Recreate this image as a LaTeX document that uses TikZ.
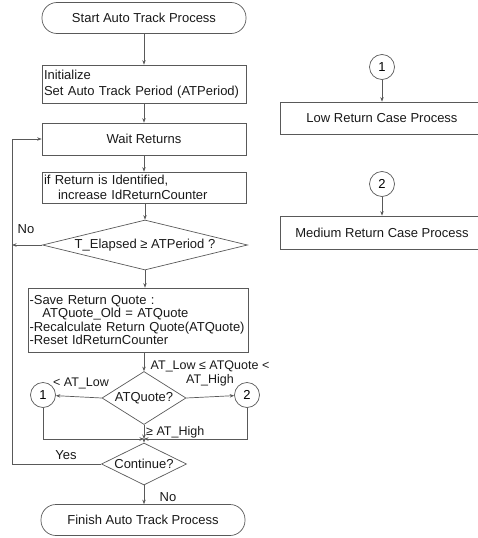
\documentclass[tikz,border=0pt]{standalone}
\usepackage{fontspec}
\setmainfont{Liberation Sans}
\usetikzlibrary{shapes.geometric,arrows.meta}
\begin{document}
\begin{tikzpicture}[x=1pt,y=-1pt,
  font=\fontsize{13}{16}\selectfont,
  line/.style={draw=black!65, line width=0.7pt},
  arr/.style={line, -{Stealth[length=4.5pt,width=3.5pt]}},
  box/.style={line, rectangle, inner sep=0pt, text=black!90},
  term/.style={box, rounded corners=15pt, minimum width=204pt, minimum height=31pt},
  dia/.style={line, diamond, inner sep=0pt, text=black!90},
  conn/.style={line, circle, minimum size=25pt, inner sep=0pt},
  lbl/.style={inner sep=0pt, text=black!90}
]
\useasboundingbox (0,0) rectangle (477,538);

% main column
\node[term] (start) at (144,18) {Start Auto Track Process};
\node[box, text width=200pt, inner xsep=2pt, minimum height=38pt, align=left] (init) at (144,84)
  {Initialize\\Set Auto Track Period (ATPeriod)};
\node[box, minimum width=204pt, minimum height=32pt] (wait) at (144,139) {Wait Returns};
\node[box, text width=200pt, inner xsep=2pt, minimum height=31pt, align=left,
      font=\fontsize{13}{15}\selectfont] (ident) at (144,187.5)
  {if Return is Identified,\\\hspace*{14pt}increase IdReturnCounter};
\node[dia, aspect=4.1, minimum width=205pt, minimum height=50pt] (elap) at (145,245) {T\_Elapsed ≥ ATPeriod ?};
\node[box, text width=217pt, inner xsep=1.5pt, minimum height=64pt, align=left,
      font=\fontsize{13}{13.2}\selectfont] (save) at (138,320)
  {-Save Return Quote :\\\hspace*{13pt}ATQuote\_Old = ATQuote\\-Recalculate Return Quote(ATQuote)\\-Reset IdReturnCounter};
\node[dia, aspect=1.6, minimum width=84pt, minimum height=53pt] (quote) at (144,398) {ATQuote?};
\node[conn] (c1) at (43,395) {1};
\node[conn] (c2) at (247,395) {2};
\coordinate (join) at (144,439);
\node[dia, aspect=2.05, minimum width=85pt, minimum height=42pt] (cont) at (144,464) {Continue?};
\node[term] (finish) at (143,520) {Finish Auto Track Process};
\coordinate (loopT) at (12,139);
\coordinate (loopN) at (12,245);
\coordinate (loopY) at (12,464);
\coordinate (c1b) at (43,439);
\coordinate (c2b) at (247,439);

% right side
\node[conn] (r1) at (382,67) {1};
\node[box, minimum width=204pt, minimum height=32pt, anchor=west] (low) at (280,118) {};
\node[lbl] (lowt) at (382,118) {Low Return Case Process};
\node[conn] (r2) at (382,184) {2};
\node[box, minimum width=204pt, minimum height=33pt, anchor=west] (med) at (280,232.5) {};
\node[lbl] (medt) at (382,232.5) {Medium Return Case Process};

% connectors
\draw[arr] (start) -- (init);
\draw[arr] (init) -- (wait);
\draw[arr] (wait) -- (ident);
\draw[arr] (ident.south -| elap.north) -- (elap.north);
\draw[arr] (elap.south) -- (elap.south |- save.north);
\draw[arr] (elap.west) -- (loopN);
\draw[arr] (save.south -| quote.north) -- (quote.north);
\draw[arr] (quote.west) -- (c1);
\draw[arr] (quote.east) -- (c2);
\draw[arr] (quote.south) -- (join);
\draw[arr] (c1) -- (c1b) -- (join);
\draw[arr] (c2) -- (c2b) -- (join);
\draw[arr] (join) -- (cont.north);
\draw[arr] (cont.south) -- (finish.north -| cont.south);
\draw[arr] (cont.west) -- (loopY) -- (loopT) -- (wait.west);
\draw[arr] (r1) -- (r1 |- low.north);
\draw[arr] (r2) -- (r2 |- med.north);

% labels
\node[lbl] (lno) at (26,229) {No};
\node[lbl, align=center, font=\fontsize{12.5}{14}\selectfont] (lmid) at (210,373) {AT\_Low ≤ ATQuote <\\AT\_High};
\node[lbl, font=\fontsize{12.5}{14}\selectfont] (llow) at (81,383) {< AT\_Low};
\node[lbl, anchor=west, font=\fontsize{12.5}{14}\selectfont] (lhigh) at (146,432) {≥ AT\_High};
\node[lbl] (lyes) at (66,455) {Yes};
\node[lbl] (lno2) at (168,497) {No};
\end{tikzpicture}
\end{document}
